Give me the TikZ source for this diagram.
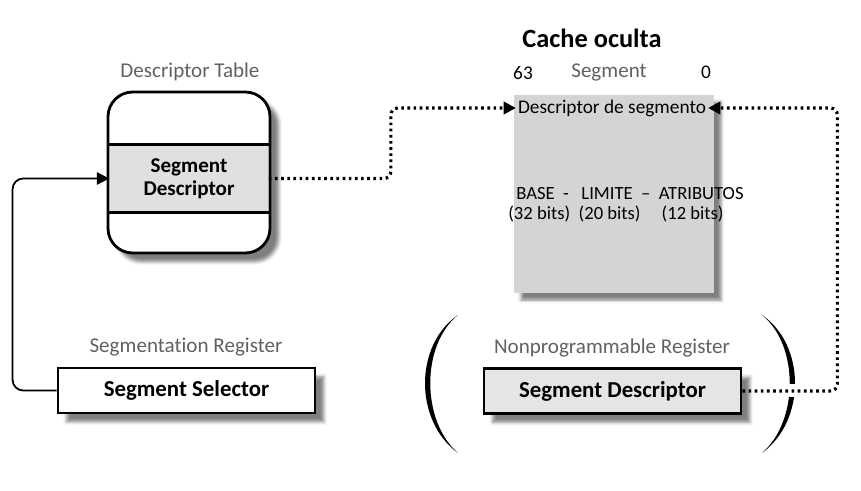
\documentclass[tikz,border=0pt]{standalone}
\usepackage{fontspec}
\setmainfont{Carlito}[Ligatures=NoCommon]
\usetikzlibrary{arrows.meta,shadows.blur,positioning}

\begin{document}
\begin{tikzpicture}[x=0.02cm, y=-0.02cm,
  lbl/.style={text=black!62, font=\fontsize{12}{13}\selectfont},
  plain/.style={font=\fontsize{11}{13}\selectfont, inner sep=1pt},
  reg/.style={draw, fill=white, line width=1.6pt, minimum width=5.14cm, minimum height=0.9cm,
    font=\bfseries\fontsize{13}{14}\selectfont,
    blur shadow={shadow xshift=5pt, shadow yshift=-5pt, shadow opacity=50}},
  link/.style={line width=1.8pt, dash pattern=on 1.5pt off 2pt, rounded corners=4pt},
  arr/.style={-{Triangle[length=7pt, width=7pt]}}]
\useasboundingbox (0,0) rectangle (861,490);

% descriptor table
\node[draw, line width=1.6pt, rounded corners=14pt, fill=white, minimum width=3.24cm,
  minimum height=3.22cm, blur shadow={shadow xshift=5pt, shadow yshift=-5pt, shadow opacity=50}]
  (tbl) at (189,172.5) {};
\node[fill=black!12, minimum width=3.18cm, minimum height=1.34cm, align=center,
  font=\bfseries\fontsize{12}{13}\selectfont] (desc) at (189,178.5) {Segment\\Descriptor};
\draw[line width=1.6pt] (tbl.west |- desc.north) -- (tbl.east |- desc.north)
  (tbl.west |- desc.south) -- (tbl.east |- desc.south);
\node[lbl] (tbllbl) at (190,72) {Descriptor Table};

% hidden cache
\node[font=\bfseries\fontsize{15}{17}\selectfont] (cache) at (592,38) {Cache oculta};
\node[fill=black!17, minimum width=4cm, minimum height=3.96cm,
  blur shadow={shadow xshift=4pt, shadow yshift=-4pt, shadow opacity=50}] (seg) at (614,194) {};
\node[plain] (b63) at (523,73) {63};
\node[lbl] (seglbl) at (609,72) {Segment};
\node[plain] (b0) at (706,72) {0};
\node[plain] (sd) at (612,108) {Descriptor de segmento};
\node[plain, font=\fontsize{10.6}{12}\selectfont] (campos) at (630,194)
  {BASE\ \ -\ \ \ LIMITE\ \ –\ \ ATRIBUTOS};
\node[plain, font=\fontsize{10.6}{12}\selectfont] (bits) at (616,214)
  {(32 bits)\ \ (20 bits)\ \ \ \ \ (12 bits)};

% registers
\node[reg] (sel) at (186.5,390.5) {Segment Selector};
\node[lbl] (sellbl) at (186,347) {Segmentation Register};
\node[reg, fill=black!10] (nsd) at (612.5,391) {Segment Descriptor};
\node[lbl] (nsdlbl) at (612,348) {Nonprogrammable Register};

% parentheses
\fill (458,315) .. controls (414,345) and (414,421) .. (458,453)
  .. controls (421,421) and (421,345) .. (458,315);
\fill (762,315) .. controls (806,345) and (806,421) .. (762,453)
  .. controls (799,421) and (799,345) .. (762,315);
\fill[white] (782,384) rectangle (802,397);

% connectors
\draw[arr, line width=1pt, rounded corners=6pt] (sel.west) -- ++(-44,0) |- (desc.west);
\draw[link, arr] (desc.east) -- ++(122,0) |- (sd.west);
\draw[link, arr] (nsd.east) -- ++(95,0) |- (sd.east);
\end{tikzpicture}
\end{document}
